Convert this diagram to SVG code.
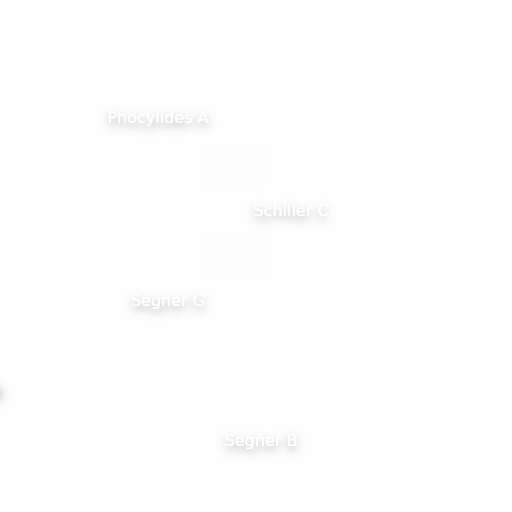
<svg xmlns="http://www.w3.org/2000/svg" width="512" height="512" viewBox="0 0 512 512">
<defs>
<filter id="sh" x="-50%" y="-100%" width="200%" height="300%">
<feDropShadow dx="0" dy="4" stdDeviation="5" flood-color="#000" flood-opacity="0.35"/>
</filter>
<filter id="bl" x="-100%" y="-100%" width="300%" height="300%">
<feGaussianBlur stdDeviation="5"/>
</filter>
</defs>
<style>
.box{fill:#000;fill-opacity:0.005;stroke:none}
.lbl{font-family:"DejaVu Sans",Verdana,sans-serif;font-size:16px;fill:#fff;text-anchor:middle;filter:url(#sh)}
</style>
<rect width="512" height="512" fill="#fff"/>
<g id="connectors"/>
<g id="node-phocylides-a">
<rect class="box" x="57" y="55" width="210" height="130"/>
<text class="lbl" x="158" y="123">Phocylides A</text>
</g>
<g id="node-schiller-c">
<rect class="box" x="200" y="145" width="188" height="135"/>
<text class="lbl" x="291" y="216">Schiller C</text>
</g>
<g id="node-segner-g">
<rect class="box" x="77" y="237" width="190" height="133"/>
<text class="lbl" x="168" y="306">Segner G</text>
</g>
<g id="node-offscreen">
<rect class="box" x="-130" y="328" width="187" height="132"/>
<ellipse cx="-14" cy="394" rx="16" ry="9" fill="#000" fill-opacity="0.25" filter="url(#bl)"/>
</g>
<g id="node-segner-b">
<rect class="box" x="170" y="377" width="188" height="135"/>
<text class="lbl" x="261" y="446">Segner B</text>
</g>
</svg>
